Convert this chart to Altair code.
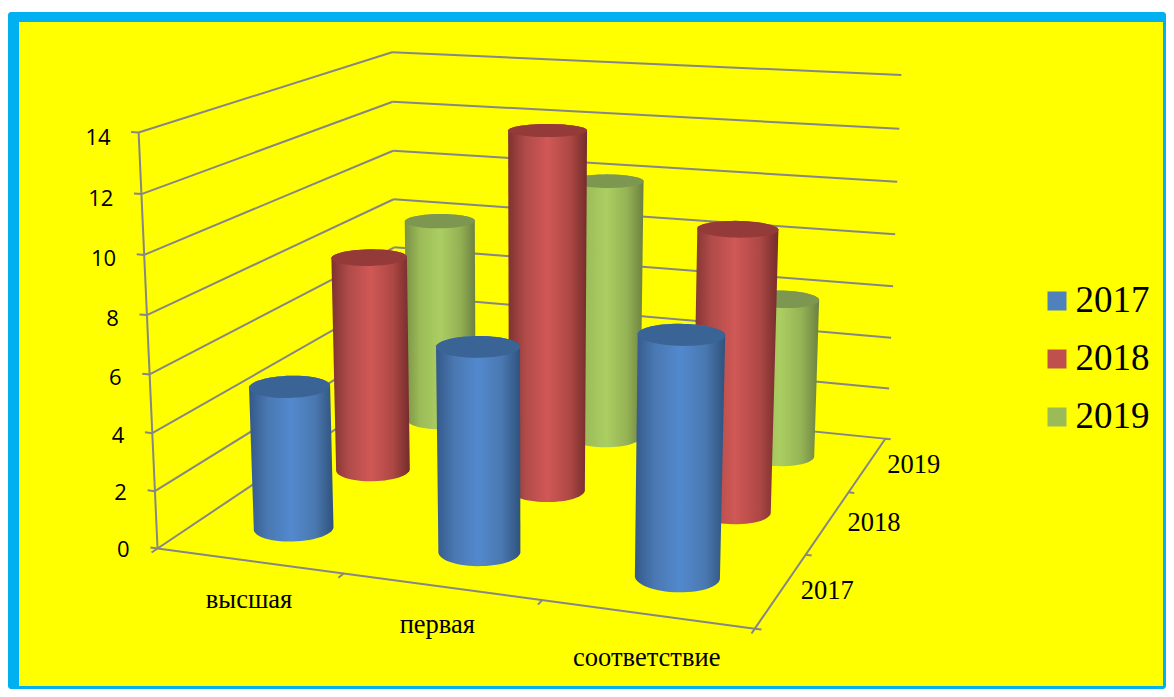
import altair as alt
import numpy as np
import pandas as pd

categories = ["высшая", "первая", "соответствие"]
series = ["2017", "2018", "2019"]
values_2017 = [5, 7, 8]
values_2018 = [8, 13, 10]
values_2019 = [8, 10, 6]
value_ticks = [0, 2, 4, 6, 8, 10, 12, 14]

legend_colors = ["#4F81BD", "#C0504D", "#9BBB59"]
top_colors = ["#3A6496", "#943B39", "#7D9650"]
body_stops = [
    ["#34598A", "#4A78B2", "#5289CE", "#4A78B0", "#2F527D"],
    ["#7E3230", "#B04B49", "#D05856", "#AE4845", "#752C2B"],
    ["#7A9146", "#9CBC58", "#ABCE62", "#94B254", "#6C8040"],
]
stop_offsets = [0, 0.22, 0.5, 0.78, 1]

# Camera calibration of the 3-D box: (category, depth, value) -> page pixel
calib = [
    ((0, 0, 0), (157, 547)), ((3, 0, 0), (753, 630)), ((3, 3, 0), (884, 437)),
    ((0, 3, 0), (392, 392)), ((0, 0, 14), (139, 134)), ((0, 3, 14), (392, 52)),
    ((3, 3, 14), (897, 76)), ((0, 0, 8), (147, 315)), ((0, 3, 8), (392, 199)),
    ((3, 3, 6), (889, 287)), ((3, 0, 0), (753, 630)),
]
A, b = [], []
for (u, w, v), (x, y) in calib:
    A.append([u, w, v, 1, 0, 0, 0, 0, -x * u, -x * w, -x * v]); b.append(x)
    A.append([0, 0, 0, 0, u, w, v, 1, -y * u, -y * w, -y * v]); b.append(y)
P = np.linalg.lstsq(np.array(A, float), np.array(b, float), rcond=None)[0]


def proj(u, w, v):
    d = P[8] * u + P[9] * w + P[10] * v + 1
    x = (P[0] * u + P[1] * w + P[2] * v + P[3]) / d
    y = (P[4] * u + P[5] * w + P[6] * v + P[7]) / d
    # small residual lens correction, strongest at the top of the left wall
    return x + 2 - 4 * (v / 14) * (1 - u / 3) * (1 - w / 3), y - 0.5


def hull(points):
    pts = sorted(set(points))
    def half(seq):
        out = []
        for p in seq:
            while len(out) > 1 and ((out[-1][0] - out[-2][0]) * (p[1] - out[-2][1])
                                    - (out[-1][1] - out[-2][1]) * (p[0] - out[-2][0])) <= 0:
                out.pop()
            out.append(p)
        return out[:-1]
    return half(pts) + half(pts[::-1])


X = alt.X("x:Q", scale=alt.Scale(domain=[8, 1166], nice=False, zero=False), axis=None)
Y = alt.Y("y:Q", scale=alt.Scale(domain=[689, 8], nice=False, zero=False), axis=None)
X2, Y2 = alt.X2("x2:Q"), alt.Y2("y2:Q")

layers = []

# hidden layer that only carries the legend
layers.append(
    alt.Chart(pd.DataFrame({"s": series})).mark_square(size=1, filled=True).encode(
        x=alt.value(100), y=alt.value(100),
        color=alt.Color("s:N", scale=alt.Scale(domain=series, range=legend_colors),
                        legend=alt.Legend(title=None, orient="none", legendX=1030.5, legendY=274.5,
                                          symbolType="square", symbolSize=361, symbolStrokeWidth=0,
                                          symbolOpacity=1,
                                          labelFont="Liberation Serif", labelFontSize=37,
                                          labelColor="black", labelOffset=0, rowPadding=20,
                                          labelLimit=200, padding=0)),
    )
)

# frame
layers.append(alt.Chart(pd.DataFrame({"x": [8], "x2": [1166], "y": [12], "y2": [689]}))
              .mark_rect(color="#00B0F0", cornerRadius=3).encode(x=X, x2=X2, y=Y, y2=Y2))
layers.append(alt.Chart(pd.DataFrame({"x": [19], "x2": [1163], "y": [22], "y2": [686]}))
              .mark_rect(color="#FFFF00").encode(x=X, x2=X2, y=Y, y2=Y2))

# walls, floor, ticks
segs = []
def seg(a, b):
    (x, y), (x2, y2) = proj(*a), proj(*b)
    segs.append({"x": x, "y": y, "x2": x2, "y2": y2})
for v in value_ticks:
    seg((-0.04, 0, v), (0, 0, v))
    seg((0, 0, v), (0, 3, v))
    seg((0, 3, v), (3.01, 3, v))
seg((0, 0, 0), (0, 0, 14))
seg((0, 0, 0), (3, 0, 0))
seg((3, 0, 0), (3, 3, 0))
for i in range(4):
    seg((i, 0, 0), (i, -0.06, 0))
    seg((3, i, 0), (3.03, i, 0))
layers.append(alt.Chart(pd.DataFrame(segs)).mark_rule(color="#868686", strokeWidth=2)
              .encode(x=X, x2=X2, y=Y, y2=Y2))

# cylinders, back to front
R_U, R_W = 0.2, 0.2
all_values = [values_2017, values_2018, values_2019]
angles = np.arange(0, 360, 6) * np.pi / 180
for j in [2, 1, 0]:
    for i in range(3):
        val = all_values[j][i]
        uc, wc = i + 0.5, j + 0.5
        rim_b = [proj(uc + R_U * np.cos(t), wc + R_W * np.sin(t), 0) for t in angles]
        rim_t = [proj(uc + R_U * np.cos(t), wc + R_W * np.sin(t), val) for t in angles]
        body = hull(rim_b + rim_t)
        body = body + body[:1]
        df = pd.DataFrame(body, columns=["x", "y"]); df["k"] = range(len(df))
        grad = alt.LinearGradient(
            gradient="linear", x1=0, x2=1, y1=0, y2=0,
            stops=[alt.GradientStop(offset=o, color=c) for o, c in zip(stop_offsets, body_stops[j])],
        )
        layers.append(alt.Chart(df).mark_line(fill=grad, strokeWidth=0, stroke="transparent", interpolate="linear")
                      .encode(x=X, y=Y, order="k:Q"))
        top = rim_t + rim_t[:1]
        df = pd.DataFrame(top, columns=["x", "y"]); df["k"] = range(len(df))
        layers.append(alt.Chart(df).mark_line(fill=top_colors[j], strokeWidth=0, stroke="transparent", interpolate="linear")
                      .encode(x=X, y=Y, order="k:Q"))

# value labels
rows = []
for v in value_ticks:
    x, y = proj(0, 0, v)
    rows.append({"x": x - 28, "y": y + 1.5 + 0.3 * v, "t": str(v)})
layers.append(alt.Chart(pd.DataFrame(rows)).mark_text(font="Open Sans", fontSize=22, align="right", baseline="middle", color="black")
              .encode(x=X, y=Y, text="t:N"))

# category and depth labels
cat_nudge = [(0, 39.5), (-4, 38.5), (0, 43.5)]
rows = []
for i, c in enumerate(categories):
    x, y = proj(i + 0.5, 0, 0)
    rows.append({"x": x + cat_nudge[i][0], "y": y + cat_nudge[i][1], "t": c})
for j, s in enumerate(series):
    x, y = proj(3, j + 0.5, 0)
    rows.append({"x": x + 46, "y": y + 0.5, "t": s})
layers.append(alt.Chart(pd.DataFrame(rows)).mark_text(font="Liberation Serif", fontSize=26.5, align="center", baseline="middle", color="black")
              .encode(x=X, y=Y, text="t:N"))

chart = alt.layer(*layers).properties(
    width=1158, height=681, padding=0, autosize=alt.AutoSizeParams(type="none"), background="white"
).configure_view(stroke=None)
chart.save("out.html", embed_options={"renderer": "svg", "actions": False})
